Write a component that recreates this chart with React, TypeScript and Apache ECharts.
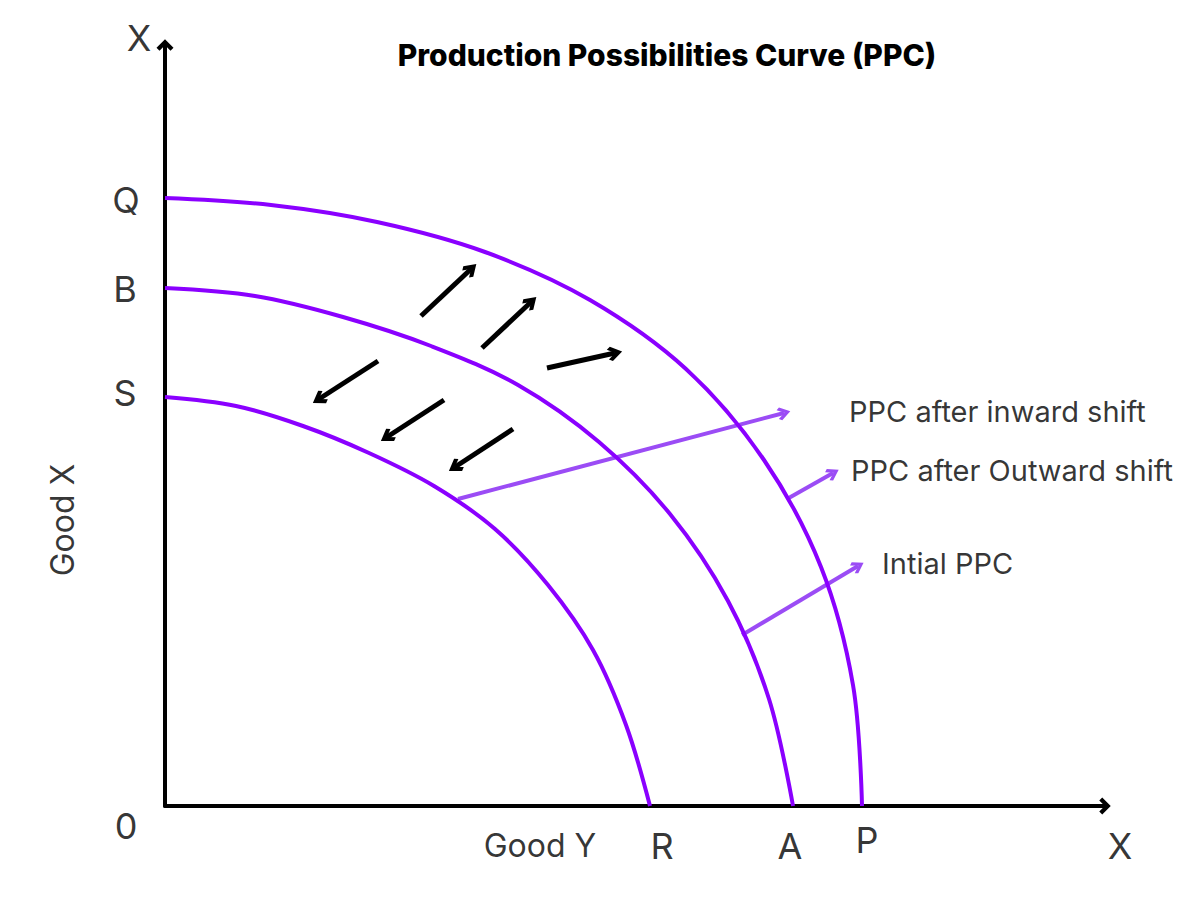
import React, { useEffect, useRef } from 'react';
import * as echarts from 'echarts';

// ---------- data (units of the two goods) ----------
const outerPPC: number[][] = [[0, 60.8], [10.6, 60.1], [21.2, 58.4], [32.0, 55.4], [42.5, 50.6], [52.1, 43.7], [59.9, 34.6], [65.6, 23.9], [68.8, 12.1], [69.7, 0]];
const initialPPC: number[][] = [[0, 51.8], [9.0, 51.0], [17.8, 48.9], [26.6, 46.0], [35.3, 42.1], [43.4, 36.4], [50.5, 29.2], [56.3, 20.5], [60.4, 10.7], [62.8, 0]];
const innerPPC: number[][] = [[0, 40.9], [7.1, 40.0], [13.8, 38.0], [20.4, 35.3], [26.9, 32.0], [33.0, 27.7], [38.3, 22.1], [42.8, 15.6], [46.1, 8.1], [48.5, 0]];

const outwardShiftArrows: number[][][] = [
  [[25.6, 49.0], [30.6, 53.7]],
  [[31.7, 45.8], [36.6, 50.4]],
  [[38.2, 43.8], [45.0, 45.3]],
];
const inwardShiftArrows: number[][][] = [
  [[21.3, 44.5], [15.4, 40.7]],
  [[27.9, 40.6], [22.2, 36.9]],
  [[34.8, 37.7], [29.0, 33.9]],
];
const pointerLines: number[][][] = [
  [[29.3, 30.7], [61.9, 39.3]],
  [[62.2, 30.7], [66.8, 33.3]],
  [[57.7, 17.1], [69.3, 24.0]],
];

const curveNames = ['PPC after inward shift', 'PPC after Outward shift', 'Intial PPC'];
const curveNameAnchors: number[][] = [[68.4, 39.5], [68.6, 33.6], [71.7, 24.3]];

const yIntercepts = ['Q', 'B', 'S'];
const yInterceptValues = [60.8, 51.8, 40.9];
const xIntercepts = ['R', 'A', 'P'];
const xInterceptValues = [48.6, 62.8, 69.7];

const X_MAX = 94;
const Y_MAX = 76.1;

const TITLE = 'Production Possibilities Curve (PPC)';

// ---------- styles ----------
const FONT = 'Inter, "Open Sans", sans-serif';
const CURVE_COLOR = '#8a00ff';
const POINTER_COLOR = '#9b4cf5';

function chevron(k: number) {
  return `path://M20,0 L40,20 L${40 - k},${20 + k} L20,${2 * k} L${k},${20 + k} L0,20 Z`;
}

const yLabelOffsets: number[][] = [[-39, 2], [-40, 1], [-40, -4]];
const xLabelOffsets: number[][] = [[11, 40], [-3, 40], [5, 34]];

export default function App() {
  const ref = useRef<HTMLDivElement>(null);
  useEffect(() => {
    if (!ref.current) return;
    const chart = echarts.init(ref.current, undefined, { renderer: 'svg' });

    const letterStyle = { fontFamily: FONT, fontSize: 36, color: '#000', fontWeight: 400 };
    const wordStyle = { fontFamily: FONT, fontSize: 32, color: '#000', fontWeight: 400 };

    const labelData: any[] = [];
    yIntercepts.forEach((n, i) => {
      labelData.push({ name: n, value: [0, yInterceptValues[i]], label: { ...letterStyle, offset: yLabelOffsets[i] } });
    });
    xIntercepts.forEach((n, i) => {
      labelData.push({ name: n, value: [xInterceptValues[i], 0], label: { ...letterStyle, offset: xLabelOffsets[i] } });
    });
    labelData.push({ name: '0', value: [0, 0], label: { ...letterStyle, offset: [-39, 20] } });
    labelData.push({ name: 'X', value: [0, Y_MAX], label: { ...letterStyle, offset: [-26, -7] } });
    labelData.push({ name: 'X', value: [X_MAX, 0], label: { ...letterStyle, offset: [15, 40] } });
    labelData.push({ name: 'Good Y', value: [37.5, 0], label: { ...wordStyle, offset: [0, 39] } });
    labelData.push({ name: 'Good X', value: [0, 28.6], label: { ...wordStyle, offset: [0, -103], rotate: 90 } });
    curveNames.forEach((n, i) => {
      labelData.push({ name: n, value: curveNameAnchors[i], label: { fontFamily: FONT, fontSize: 29, color: '#000', align: 'left' } });
    });

    const curve = (name: string, data: number[][]) => ({
      type: 'line', name, data, smooth: 0.35, showSymbol: false, symbol: 'none', clip: false, silent: true,
      lineStyle: { color: CURVE_COLOR, width: 4 },
    });

    chart.setOption({
      animation: false,
      backgroundColor: '#fff',
      title: {
        text: TITLE, left: 662, top: 35, textAlign: 'center',
        textStyle: { fontFamily: FONT, fontSize: 30, fontWeight: 800, color: '#000' },
      },
      grid: { left: 165, right: 95, top: 45, bottom: 94, containLabel: false, outerBoundsMode: 'none' },
      xAxis: {
        type: 'value', min: 0, max: X_MAX,
        axisLine: { show: true, onZero: false, lineStyle: { color: '#000', width: 4 }, symbol: ['none', chevron(7)], symbolSize: [17, 11.5] },
        axisTick: { show: false }, axisLabel: { show: false }, splitLine: { show: false },
      },
      yAxis: {
        type: 'value', min: 0, max: Y_MAX,
        axisLine: { show: true, onZero: false, lineStyle: { color: '#000', width: 4 }, symbol: ['none', chevron(7)], symbolSize: [17, 11.5] },
        axisTick: { show: false }, axisLabel: { show: false }, splitLine: { show: false },
      },
      series: [
        curve('PPC after Outward shift', outerPPC),
        curve('Intial PPC', initialPPC),
        curve('PPC after inward shift', innerPPC),
        {
          type: 'lines', coordinateSystem: 'cartesian2d', silent: true,
          data: pointerLines.map((c) => ({ coords: c })),
          symbol: ['none', chevron(6)], symbolSize: [20, 13],
          lineStyle: { color: POINTER_COLOR, width: 4, opacity: 1, curveness: 0 },
        },
        {
          type: 'lines', coordinateSystem: 'cartesian2d', silent: true,
          data: [...outwardShiftArrows, ...inwardShiftArrows].map((c) => ({ coords: c })),
          symbol: ['none', chevron(6.5)], symbolSize: [22, 14.6],
          lineStyle: { color: '#000', width: 5, opacity: 1, curveness: 0 },
        },
        {
          type: 'scatter', silent: true, symbolSize: 0, data: labelData,
          label: { show: true, formatter: '{b}', position: [0, 0], align: 'center', verticalAlign: 'middle' },
        },
      ],
    });
    return () => chart.dispose();
  }, []);
  return <div ref={ref} style={{ position: 'fixed', left: 0, top: 0, width: 1200, height: 900, background: '#fff' }} />;
}
